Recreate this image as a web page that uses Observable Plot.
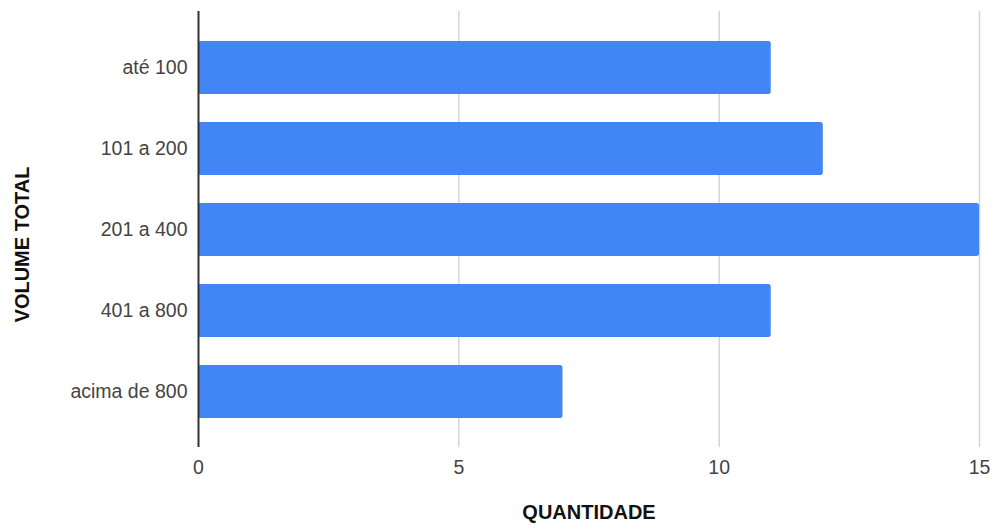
<!DOCTYPE html>
<html>
<head>
<meta charset="utf-8">
<script src="https://cdn.jsdelivr.net/npm/d3@7"></script>
<script src="https://cdn.jsdelivr.net/npm/@observablehq/plot@0.6"></script>
<style>
  html, body { margin: 0; padding: 0; background: #fff; }
  #chart svg { display: block; }
</style>
</head>
<body>
<div id="chart"></div>
<script>
const categories = ["até 100", "101 a 200", "201 a 400", "401 a 800", "acima de 800"];
const values = [11, 12, 15, 11, 7];
const xTicks = [0, 5, 10, 15];
const xTitle = "QUANTIDADE";
const yTitle = "VOLUME TOTAL";

const data = categories.map((c, i) => ({category: c, value: values[i]}));

const chart = Plot.plot({
  width: 995,
  height: 531,
  marginTop: 11,
  marginBottom: 84,
  marginLeft: 198,
  marginRight: 16,
  style: {fontFamily: "'Liberation Sans', Arial, sans-serif", fontSize: "19.5px", color: "#444", background: "#fff"},
  x: {domain: [0, 15], ticks: xTicks, tickSize: 0, tickPadding: 13, label: null},
  y: {domain: categories, paddingInner: 0.346, paddingOuter: 0.364, tickSize: 0, tickPadding: 11, label: null},
  marks: [
    Plot.ruleX(xTicks.filter(d => d !== 0), {stroke: "#d0d0d0", strokeWidth: 1.3}),
    Plot.barX(data, {x: "value", y: "category", fill: "#4285f4", rx: 2.5}),
    Plot.ruleX([0], {stroke: "#333", strokeWidth: 2}),
    Plot.text([xTitle], {frameAnchor: "bottom", dy: 71, fontWeight: "bold", fill: "#111", fontSize: 20}),
    Plot.text([yTitle], {frameAnchor: "left", textAnchor: "middle", dx: -176, dy: 15, rotate: -90, fontWeight: "bold", fill: "#111", fontSize: 20})
  ]
});
document.getElementById("chart").appendChild(chart);
</script>
</body>
</html>
